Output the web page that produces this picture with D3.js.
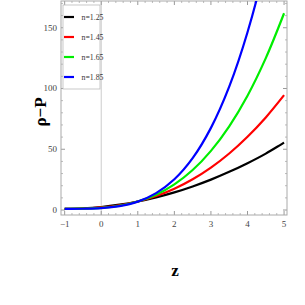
<!DOCTYPE html>
<html>
<head>
<meta charset="utf-8">
<script src="https://cdn.jsdelivr.net/npm/d3@7"></script>
<style>
  body { margin: 0; background: #fff; }
  svg { display: block; }
</style>
</head>
<body>
<svg width="305" height="305"></svg>
<script>
const zs = [-1, -0.5, 0, 0.5, 1, 1.5, 2, 2.5, 3, 3.5, 4, 4.5, 5];
const labels = ["n=1.25", "n=1.45", "n=1.65", "n=1.85"];
const colors = ["#000000", "#ff0000", "#00ee00", "#0000ff"];
const black = [1, 1.4, 2.5, 4.4, 7, 10.4, 14.5, 19.4, 25, 31.4, 38.5, 46.4, 55.5];
const red   = [1, 1.2, 2.1, 3.9, 7, 11.5, 17.5, 25.3, 34.9, 46.5, 60.3, 76.2, 94.5];
const green = [1, 1.1, 1.7, 3.5, 7, 12.6, 21.1, 32.9, 48.7, 68.9, 94.1, 125, 161.9];
const blue  = [1, 1.05, 1.5, 3.15, 6.9, 13.9, 25.3, 42.7, 67.6, 101.5, 146.3, 203.9, 280];
const xTicks = [-1, 0, 1, 2, 3, 4, 5];
const yTicks = [0, 50, 100, 150];

const series = [black, red, green, blue];

const svg = d3.select("svg"),
    margin = {top: 1, left: 61, right: 18, bottom: 90},
    width = 305 - margin.left - margin.right,
    height = 305 - margin.top - margin.bottom;

const g = svg.append("g")
    .attr("transform", `translate(${margin.left},${margin.top})`);

const x = d3.scaleLinear().domain([-1.1, 5.08]).range([0, width]);
const y = d3.scaleLinear().domain([-4.1, 172]).range([height, 0]);

const tickCol = "#999";

// vertical axis at z = 0
g.append("line")
    .attr("x1", x(0)).attr("x2", x(0))
    .attr("y1", 0).attr("y2", height)
    .attr("stroke", "#ccc").attr("stroke-width", 1);

// ticks on all four sides (inward)
const xMinor = d3.range(-1, 5.01, 0.2).filter(v => Math.abs(v - Math.round(v)) > 0.01);
const yMinor = d3.range(0, 171, 10).filter(v => v % 50 !== 0);

function ticks(vals, len, col) {
  vals.forEach(v => {
    g.append("line").attr("x1", x(v)).attr("x2", x(v)).attr("y1", height).attr("y2", height - len).attr("stroke", col);
    g.append("line").attr("x1", x(v)).attr("x2", x(v)).attr("y1", 0).attr("y2", len).attr("stroke", col);
  });
}
function yticks(vals, len, col) {
  vals.forEach(v => {
    g.append("line").attr("y1", y(v)).attr("y2", y(v)).attr("x1", 0).attr("x2", len).attr("stroke", col);
    g.append("line").attr("y1", y(v)).attr("y2", y(v)).attr("x1", width).attr("x2", width - len).attr("stroke", col);
  });
}
ticks(xTicks, 4, tickCol);
ticks(xMinor, 2, "#bbb");
yticks(yTicks, 4, tickCol);
yticks(yMinor, 2, "#bbb");

g.append("rect")
    .attr("x", 0).attr("y", 0)
    .attr("width", width).attr("height", height)
    .attr("fill", "none").attr("stroke", "#aaa").attr("stroke-width", 1);

// tick labels
g.selectAll(".xl").data(xTicks).join("text")
    .attr("x", d => x(d)).attr("y", height + 12)
    .attr("text-anchor", "middle")
    .attr("font-family", "Liberation Serif").attr("font-size", 9).attr("fill", "#444")
    .text(d => d < 0 ? "\u2212" + Math.abs(d) : d);

g.selectAll(".yl").data(yTicks).join("text")
    .attr("x", -4).attr("y", d => y(d) + 3)
    .attr("text-anchor", "end")
    .attr("font-family", "Liberation Serif").attr("font-size", 9).attr("fill", "#444")
    .text(d => d);

// curves
g.append("clipPath").attr("id", "clip")
  .append("rect").attr("width", width).attr("height", height);

const line = d3.line()
    .x((d, i) => x(zs[i]))
    .y(d => y(d))
    .curve(d3.curveCatmullRom);

g.append("g").attr("clip-path", "url(#clip)")
  .selectAll("path").data(series).join("path")
    .attr("d", line)
    .attr("fill", "none")
    .attr("stroke", (d, i) => colors[i])
    .attr("stroke-width", 2.2);

// legend
const lg = g.append("g").attr("transform", "translate(2,4)");
lg.append("rect").attr("width", 37).attr("height", 84)
    .attr("fill", "#fff").attr("stroke", "#bbb").attr("stroke-width", 0.8);
labels.forEach((lab, i) => {
  const yy = 12 + i * 20;
  lg.append("line").attr("x1", 1).attr("x2", 11).attr("y1", yy).attr("y2", yy)
      .attr("stroke", colors[i]).attr("stroke-width", 2.2);
  lg.append("text").attr("x", 18.5).attr("y", yy + 2.5)
      .attr("font-family", "Liberation Serif").attr("font-size", 7.8).attr("fill", "#333")
      .text(lab);
});

// axis titles
svg.append("text")
    .attr("x", 175).attr("y", 276)
    .attr("text-anchor", "middle")
    .attr("font-family", "Liberation Serif").attr("font-weight", "bold").attr("font-size", 17)
    .text("z");

svg.append("text")
    .attr("transform", "translate(46,112) rotate(-90)")
    .attr("text-anchor", "middle")
    .attr("font-family", "Liberation Serif").attr("font-weight", "bold").attr("font-size", 17)
    .text("\u03C1\u2212P");
</script>
</body>
</html>
